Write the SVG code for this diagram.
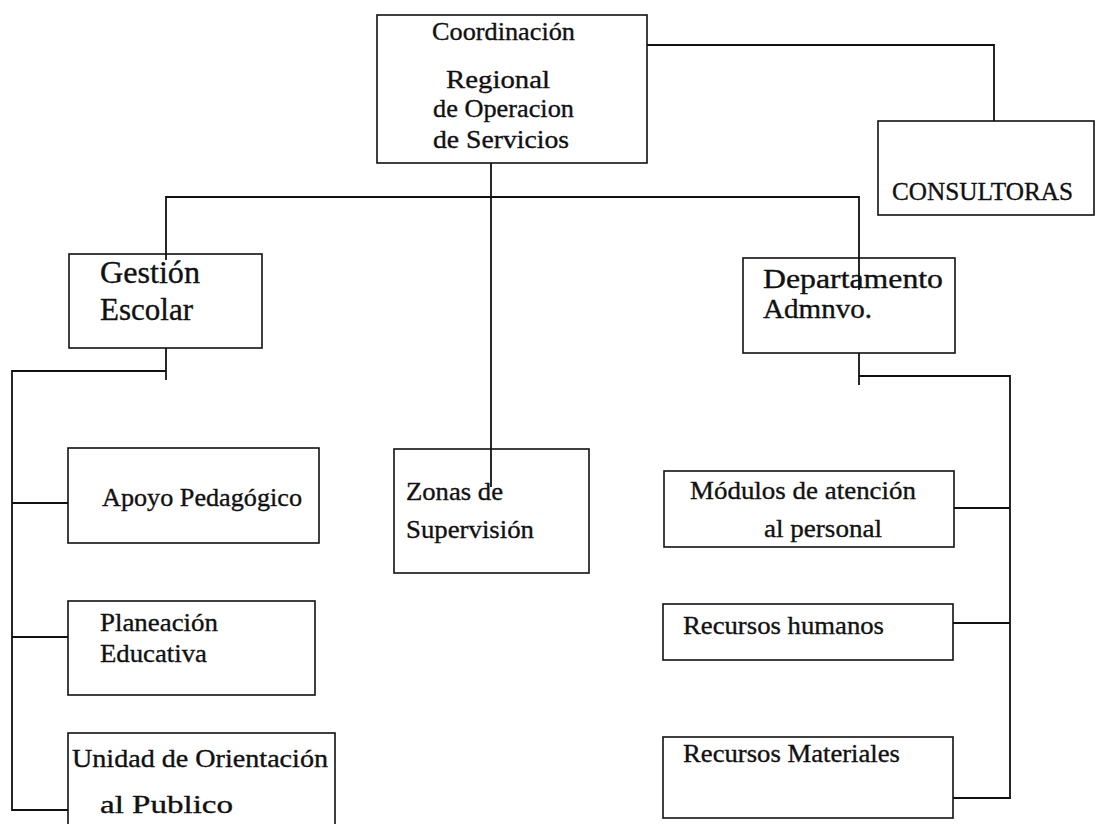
<svg xmlns="http://www.w3.org/2000/svg" width="1097" height="824" viewBox="0 0 1097 824">
<style>
.box{fill:#fff;stroke:#111;stroke-width:1.6}
.ln{fill:none;stroke:#111;stroke-width:1.8}
text{font-family:"Liberation Serif","Times New Roman",serif;fill:#111;font-size:26px;stroke:#111;stroke-width:0.35}
.big{font-size:31px}
.dep{font-size:27px}
</style>
<rect width="1097" height="824" fill="#fff"/>
<g id="n-coord">
<rect class="box" x="377" y="15" width="270" height="148"/>
<text x="432" y="40" textLength="143" lengthAdjust="spacingAndGlyphs">Coordinación</text>
<text x="446" y="88" textLength="104" lengthAdjust="spacingAndGlyphs">Regional</text>
<text x="433" y="117" textLength="141" lengthAdjust="spacingAndGlyphs">de Operacion</text>
<text x="433" y="148" textLength="136" lengthAdjust="spacingAndGlyphs">de Servicios</text>
</g>
<g id="n-consultoras">
<rect class="box" x="878" y="121" width="216" height="94"/>
<text x="892" y="200" textLength="181" lengthAdjust="spacingAndGlyphs">CONSULTORAS</text>
</g>
<g id="n-gestion">
<rect class="box" x="69" y="254" width="193" height="94"/>
<text class="big" x="100" y="283" textLength="100" lengthAdjust="spacingAndGlyphs">Gestión</text>
<text class="big" x="100" y="320" textLength="93" lengthAdjust="spacingAndGlyphs">Escolar</text>
</g>
<g id="n-depto">
<rect class="box" x="743" y="258" width="212" height="95"/>
<text class="dep" x="763" y="288" textLength="180" lengthAdjust="spacingAndGlyphs">Departamento</text>
<text class="dep" x="763" y="318" textLength="109" lengthAdjust="spacingAndGlyphs">Admnvo.</text>
</g>
<g id="n-apoyo">
<rect class="box" x="68" y="448" width="251" height="95"/>
<text x="102" y="506" textLength="200" lengthAdjust="spacingAndGlyphs">Apoyo Pedagógico</text>
</g>
<g id="n-zonas">
<rect class="box" x="394" y="449" width="195" height="124"/>
<text x="406" y="500" textLength="97" lengthAdjust="spacingAndGlyphs">Zonas de</text>
<text x="406" y="538" textLength="128" lengthAdjust="spacingAndGlyphs">Supervisión</text>
</g>
<g id="n-modulos">
<rect class="box" x="664" y="471" width="290" height="76"/>
<text x="690" y="499" textLength="226" lengthAdjust="spacingAndGlyphs">Módulos de atención</text>
<text x="764" y="537" textLength="118" lengthAdjust="spacingAndGlyphs">al personal</text>
</g>
<g id="n-planeacion">
<rect class="box" x="68" y="601" width="247" height="94"/>
<text x="100" y="631" textLength="118" lengthAdjust="spacingAndGlyphs">Planeación</text>
<text x="100" y="662" textLength="107" lengthAdjust="spacingAndGlyphs">Educativa</text>
</g>
<g id="n-rrhh">
<rect class="box" x="663" y="604" width="290" height="56"/>
<text x="683" y="634" textLength="201" lengthAdjust="spacingAndGlyphs">Recursos humanos</text>
</g>
<g id="n-unidad">
<rect class="box" x="68" y="733" width="267" height="100"/>
<text x="72" y="767" textLength="256" lengthAdjust="spacingAndGlyphs">Unidad de Orientación</text>
<text x="100" y="813" textLength="133" lengthAdjust="spacingAndGlyphs">al Publico</text>
</g>
<g id="n-rmat">
<rect class="box" x="663" y="737" width="290" height="81"/>
<text x="683" y="762" textLength="217" lengthAdjust="spacingAndGlyphs">Recursos Materiales</text>
</g>
<g id="connectors">
<polyline class="ln" points="647,45 994,45 994,121"/>
<line class="ln" x1="491" y1="163" x2="491" y2="487"/>
<polyline class="ln" points="166,260 166,197 859,197 859,290"/>
<line class="ln" x1="166" y1="348" x2="166" y2="380"/>
<polyline class="ln" points="166,371 12,371 12,810 68,810"/>
<line class="ln" x1="12" y1="503" x2="68" y2="503"/>
<line class="ln" x1="12" y1="637" x2="68" y2="637"/>
<line class="ln" x1="859" y1="353" x2="859" y2="385"/>
<polyline class="ln" points="859,376 1010,376 1010,798 953,798"/>
<line class="ln" x1="954" y1="508" x2="1010" y2="508"/>
<line class="ln" x1="953" y1="623" x2="1010" y2="623"/>
</g>
</svg>
